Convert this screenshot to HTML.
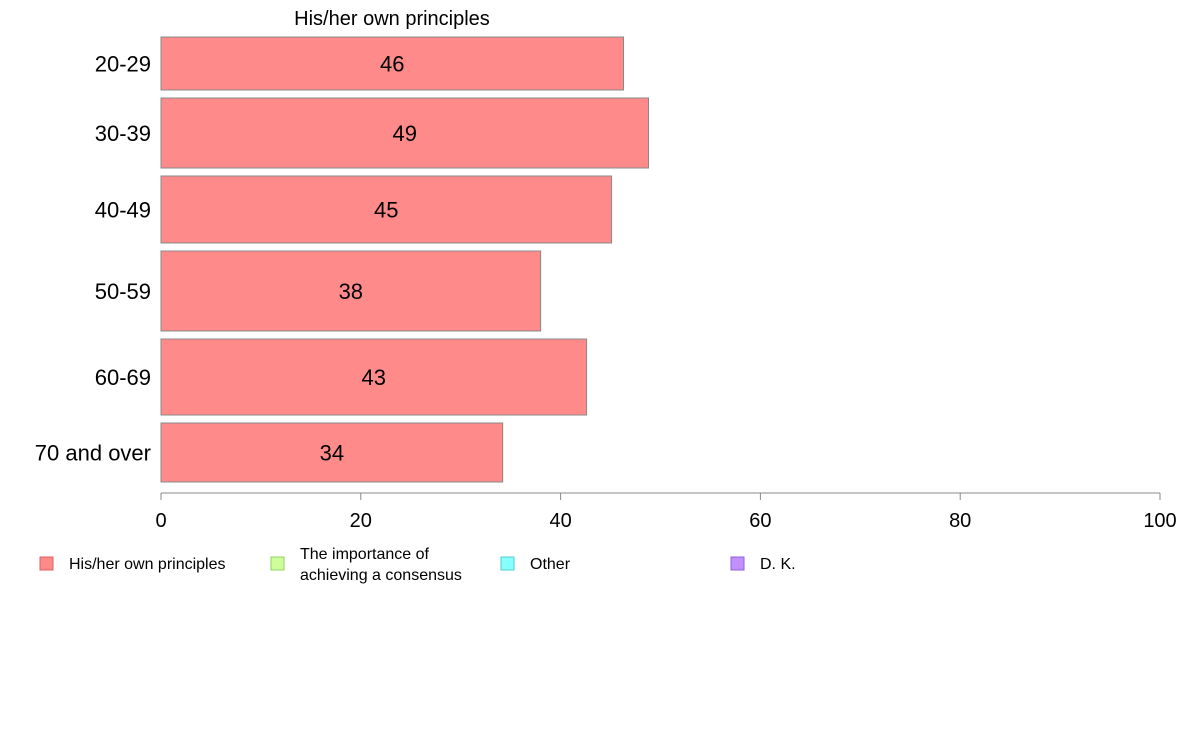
<!DOCTYPE html>
<html><head><meta charset="utf-8"><style>
body{margin:0;background:#fff;font-family:"Liberation Sans",Arial,sans-serif}
svg text{font-family:"Liberation Sans",Arial,sans-serif}
</style></head><body>
<svg id="chart" width="1188" height="736">
<text x="392" y="25" font-size="20" text-anchor="middle">His/her own principles</text>
<g id="bars"></g>
<g id="axis"></g>
<g font-size="16">
<rect x="40" y="557" width="13" height="13" fill="#ff8a8a" stroke="#e06060"/>
<text x="69" y="569">His/her own principles</text>
<rect x="271" y="557" width="13" height="13" fill="#ccff99" stroke="#99cc66"/>
<text x="300" y="559">The importance of</text>
<text x="300" y="580">achieving a consensus</text>
<rect x="501" y="557" width="13" height="13" fill="#88ffff" stroke="#55cccc"/>
<text x="530" y="569">Other</text>
<rect x="731" y="557" width="13" height="13" fill="#c090ff" stroke="#9060dd"/>
<text x="760" y="569">D. K.</text>
</g>
</svg>
<script>
const categories=["20-29","30-39","40-49","50-59","60-69","70 and over"];
const values=[46.3,48.8,45.1,38.0,42.6,34.2];
const labels=["46","49","45","38","43","34"];
const weights=[53,70,67,80,76,59];
const ticks=[0,20,40,60,80,100];
const ns="http://www.w3.org/2000/svg";
const X0=161,X1=1160,top0=37,gap=8,axisY=493;
const x=v=>X0+(v/100)*(X1-X0);
const totalH=482-top0-gap*(categories.length-1);
const wsum=weights.reduce((a,b)=>a+b,0);
const bars=document.getElementById('bars');
let y=top0;
function mk(t,a){const e=document.createElementNS(ns,t);for(const k in a)e.setAttribute(k,a[k]);return e;}
categories.forEach((c,i)=>{
 const h=weights[i]/wsum*totalH;
 const r=mk('rect',{x:X0,y:y,width:x(values[i])-X0,height:h,fill:'#ff8a8a',stroke:'#888','stroke-width':1});
 
 
 bars.appendChild(r);
 const t=mk('text',{x:(X0+x(values[i]))/2,y:y+h/2+8,'font-size':22,'text-anchor':'middle'});
 t.textContent=labels[i];
 
 
 bars.appendChild(t);
 const l=mk('text',{x:151,y:y+h/2+8,'font-size':22,'text-anchor':'end'});
 l.textContent=c;
 
 
 bars.appendChild(l);
 y+=h+gap;
});
const ax=document.getElementById('axis');
const line=mk('line',{x1:X0,x2:X1,y1:axisY,y2:axisY,stroke:'#888'});


ax.appendChild(line);
ticks.forEach(v=>{
 const tk=mk('line',{x1:x(v),x2:x(v),y1:axisY,y2:axisY+7,stroke:'#888'});
 
 
 ax.appendChild(tk);
 const t=mk('text',{x:x(v),y:527,'font-size':20,'text-anchor':'middle'});
 t.textContent=v;
 
 
 ax.appendChild(t);
});
</script>
</body></html>
